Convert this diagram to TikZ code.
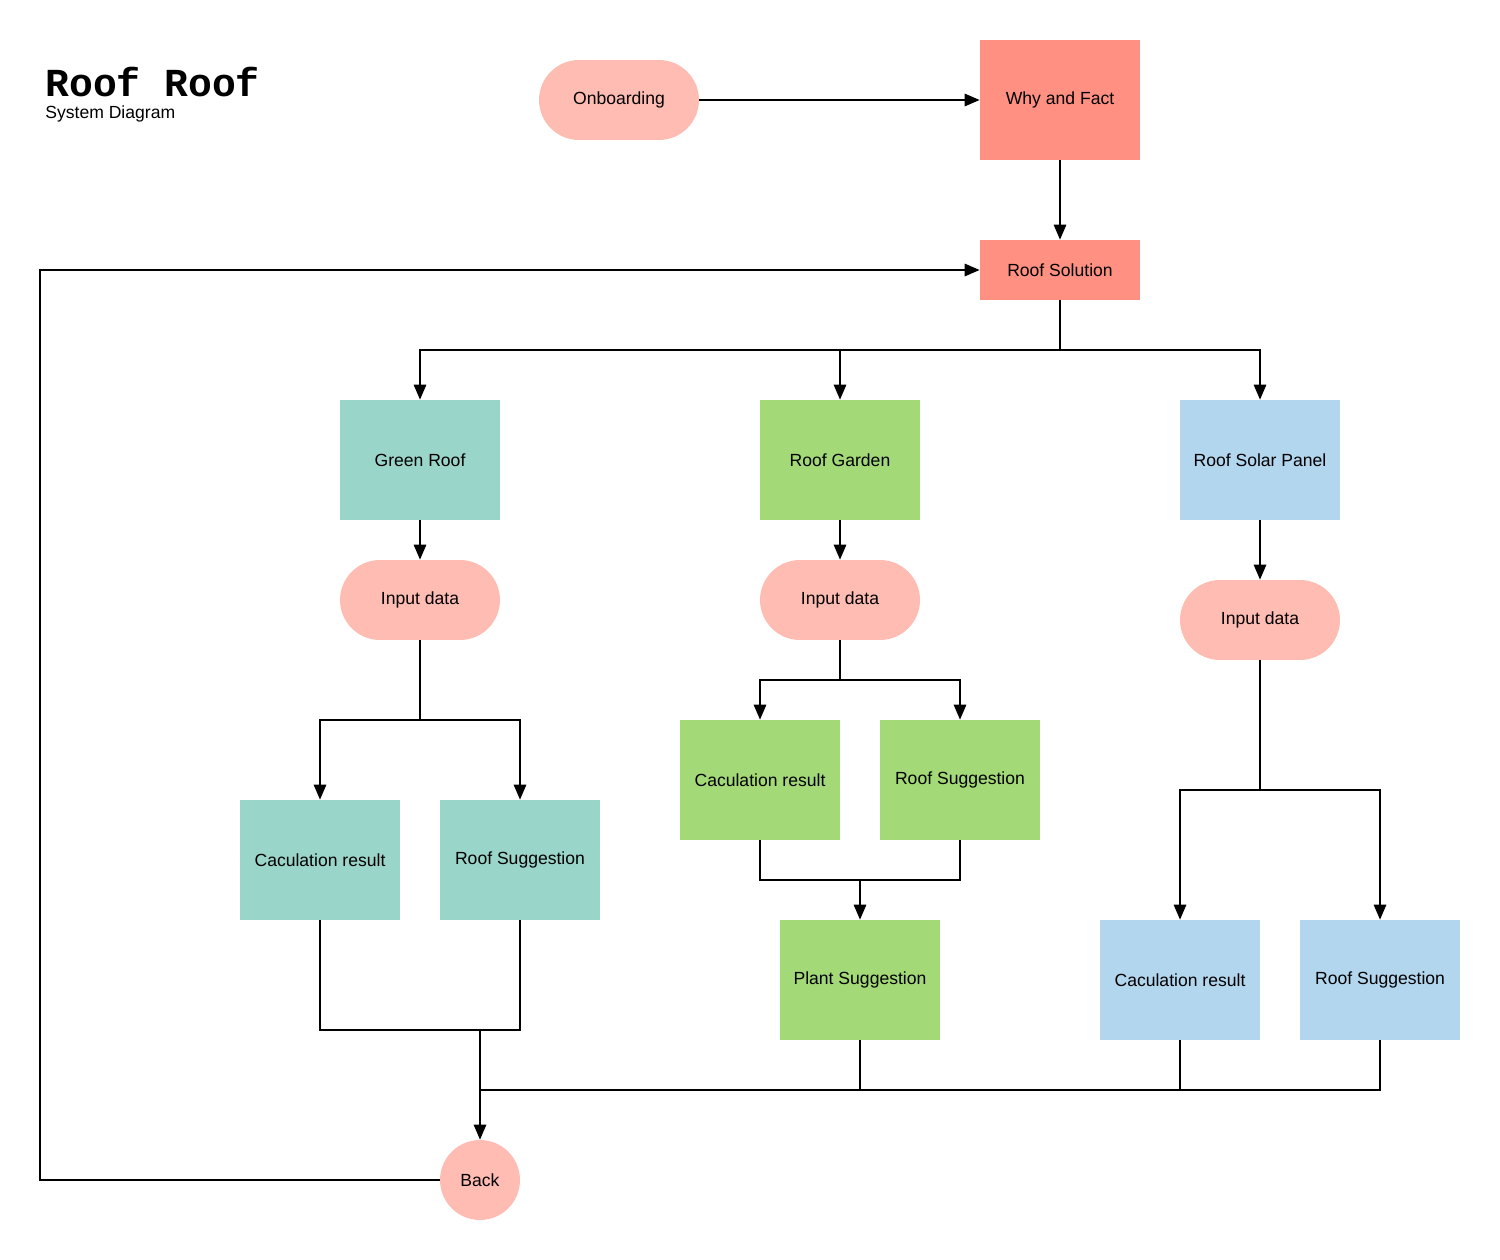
\documentclass[tikz,border=0pt]{standalone}
\usepackage{fontspec}
\setmainfont{Liberation Sans}
\newfontfamily\titlefont{Liberation Mono}
\usetikzlibrary{arrows.meta}
\definecolor{pinkish}{HTML}{FFBCB3}
\definecolor{salmon}{HTML}{FF9082}
\definecolor{teal}{HTML}{9AD5CA}
\definecolor{leaf}{HTML}{A3D977}
\definecolor{sky}{HTML}{B3D6EF}
\tikzset{box/.style = {shape=rectangle, minimum width=3.2cm, minimum height=2.4cm, inner sep=0pt}}
\tikzset{flatbox/.style = {box, minimum height=1.2cm}}
\tikzset{pill/.style = {shape=rectangle, rounded corners=0.8cm, fill=pinkish, minimum width=3.2cm, minimum height=1.6cm, inner sep=0pt}}
\tikzset{ball/.style = {shape=circle, fill=pinkish, minimum size=1.6cm, inner sep=0pt}}
\tikzset{line/.style = {line width=1.1pt}}
\tikzset{edge/.style = {line, -{Triangle[length=8.5pt,width=7pt]}}}

\begin{document}
\begin{tikzpicture}[x=0.02cm, y=-0.02cm, font=\fontsize{10}{12}\selectfont]
                \useasboundingbox (0,0) rectangle (1500,1260);
                % title
                \node[anchor=base west, inner sep=0pt, font=\titlefont\bfseries\fontsize{22.6}{26}\selectfont] (title) at (45,97) {Roof Roof};
                \node[anchor=base west, inner sep=0pt] (subtitle) at (45,119) {System Diagram};
                % top
                \node[pill] (onb) at (619,100) {Onboarding};
                \node[box, fill=salmon] (why) at (1060,100) {Why and Fact};
                \draw[edge] (onb) -- (why);
                \node[flatbox, fill=salmon] (sol) at (1060,270) {Roof Solution};
                \draw[edge] (why) -- (sol);
                % solutions
                \node[box, fill=teal] (green) at (420,460) {Green Roof};
                \node[box, fill=leaf] (garden) at (840,460) {Roof Garden};
                \node[box, fill=sky] (solar) at (1260,460) {Roof Solar Panel};
                \coordinate (split) at (1060,350);
                \draw[line] (sol) -- (split);
                \draw[edge] (split) -| (green);
                \draw[edge] (split) -| (garden);
                \draw[edge] (split) -| (solar);
                % green roof
                \node[pill] (in1) at (420,600) {Input data};
                \draw[edge] (green) -- (in1);
                \node[box, fill=teal] (calc1) at (320,860) {Caculation result};
                \node[box, fill=teal] (sugg1) at (520,860) {Roof Suggestion};
                \coordinate (j1) at (420,720);
                \draw[line] (in1) -- (j1);
                \draw[edge] (j1) -| (calc1);
                \draw[edge] (j1) -| (sugg1);
                % roof garden
                \node[pill] (in2) at (840,600) {Input data};
                \draw[edge] (garden) -- (in2);
                \node[box, fill=leaf] (calc2) at (760,780) {Caculation result};
                \node[box, fill=leaf] (sugg2) at (960,780) {Roof Suggestion};
                \coordinate (j2) at (840,680);
                \draw[line] (in2) -- (j2);
                \draw[edge] (j2) -| (calc2);
                \draw[edge] (j2) -| (sugg2);
                \node[box, fill=leaf] (plant) at (860,980) {Plant Suggestion};
                \coordinate (m2) at (860,880);
                \draw[line] (calc2) |- (m2) -| (sugg2);
                \draw[edge] (m2) -- (plant);
                % solar panel
                \node[pill] (in3) at (1260,620) {Input data};
                \draw[edge] (solar) -- (in3);
                \node[box, fill=sky] (calc3) at (1180,980) {Caculation result};
                \node[box, fill=sky] (sugg3) at (1380,980) {Roof Suggestion};
                \coordinate (j3) at (1260,790);
                \draw[line] (in3) -- (j3);
                \draw[edge] (j3) -| (calc3);
                \draw[edge] (j3) -| (sugg3);
                % back
                \node[ball] (back) at (480,1180) {Back};
                \coordinate (m1) at (480,1030);
                \coordinate (bus) at (480,1090);
                \draw[line] (calc1) |- (m1) -| (sugg1);
                \draw[edge] (m1) -- (back);
                \draw[line] (sugg3) |- (bus);
                \draw[line] (plant) -- (plant |- bus);
                \draw[line] (calc3) -- (calc3 |- bus);
                \coordinate (corner) at (40,1180);
                \draw[edge] (back) -- (corner) |- (sol);
            \end{tikzpicture}
\end{document}
